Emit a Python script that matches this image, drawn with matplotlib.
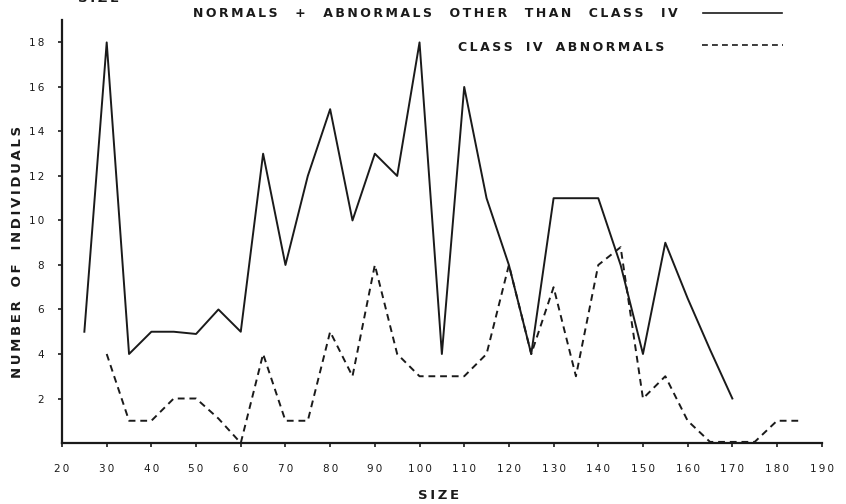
import matplotlib
matplotlib.use("Agg")
import matplotlib.pyplot as plt

# Size classes and counts
sizes_main = [25, 30, 35, 40, 45, 50, 55, 60, 65, 70, 75, 80, 85, 90, 95, 100,
              105, 110, 115, 120, 125, 130, 135, 140, 145, 150, 155, 160, 165, 170]
counts_main = [5, 18, 4, 5, 5, 4.9, 6, 5, 13, 8, 12, 15, 10, 13, 12, 18,
               4, 16, 11, 8, 4, 11, 11, 11, 8, 4, 9, 6.5, 4.2, 2]

sizes_iv = [30, 35, 40, 45, 50, 55, 60, 65, 70, 75, 80, 85, 90, 95, 100, 105,
            110, 115, 120, 125, 130, 135, 140, 145, 150, 155, 160, 165, 170,
            175, 180, 185]
counts_iv = [4, 1, 1, 2, 2, 1.1, 0, 4, 1, 1, 5, 3, 8, 4, 3, 3,
             3, 4, 8, 4, 7, 3, 8, 8.8, 2, 3, 1, 0.05, 0.05, 0.05, 1, 1]

x_ticks = list(range(20, 200, 10))
y_ticks = list(range(2, 20, 2))

THIN = "\u2009"


def spaced(s, gap="   "):
    # letter-spaced lettering like the hand-lettered original
    return gap.join(THIN.join(w) for w in s.split())


fig = plt.figure(figsize=(8.46, 5.04), dpi=100)
ax = fig.add_axes([0.0733, 0.121, 0.898, 0.839])

ax.plot(sizes_main, counts_main, color="#1a1a1a", lw=1.4)
ax.plot(sizes_iv, counts_iv, color="#1a1a1a", lw=1.4, dashes=(3.5, 2.5))

ax.set_xlim(20, 190)
ax.set_ylim(0, 19)
ax.set_xticks(x_ticks)
ax.set_yticks(y_ticks)
ax.set_xticklabels([spaced(str(t)) for t in x_ticks])
ax.set_yticklabels([spaced(str(t)) for t in y_ticks])
ax.tick_params(axis="both", direction="out", length=3, width=1.2,
               labelsize=7.5, colors="#1a1a1a")
ax.tick_params(axis="x", pad=12)
ax.tick_params(axis="y", pad=10)

for side in ("top", "right"):
    ax.spines[side].set_visible(False)
for side in ("left", "bottom"):
    ax.spines[side].set_linewidth(1.6)
    ax.spines[side].set_color("#1a1a1a")

font = dict(family="DejaVu Sans", fontweight="bold", color="#1a1a1a")

ax.set_xlabel(spaced("SIZE"), fontsize=9.5, **font)
ax.xaxis.set_label_coords(0.495, -0.108)
ax.set_ylabel(spaced("NUMBER OF INDIVIDUALS"), fontsize=9.5, **font)
ax.yaxis.set_label_coords(-0.05, 0.452)

# cut-off label at the top-left corner
fig.text(0.092, 1.002, spaced("SIZE"), fontsize=9.5, va="center", ha="left", **font)

# hand-drawn style legend
fig.text(0.514, 0.974, spaced("NORMALS + ABNORMALS OTHER THAN CLASS IV", gap="    "),
         fontsize=9, ha="center", va="center", **font)
fig.text(0.663, 0.905, spaced("CLASS IV ABNORMALS"),
         fontsize=9, ha="center", va="center", **font)
fig.add_artist(plt.Line2D([0.831, 0.924], [0.974, 0.974],
                          transform=fig.transFigure, color="#1a1a1a", lw=1.2))
fig.add_artist(plt.Line2D([0.830, 0.926], [0.911, 0.911],
                          transform=fig.transFigure, color="#1a1a1a", lw=1.2,
                          dashes=(3.5, 2.5)))

fig.savefig("out.png", dpi=100)
